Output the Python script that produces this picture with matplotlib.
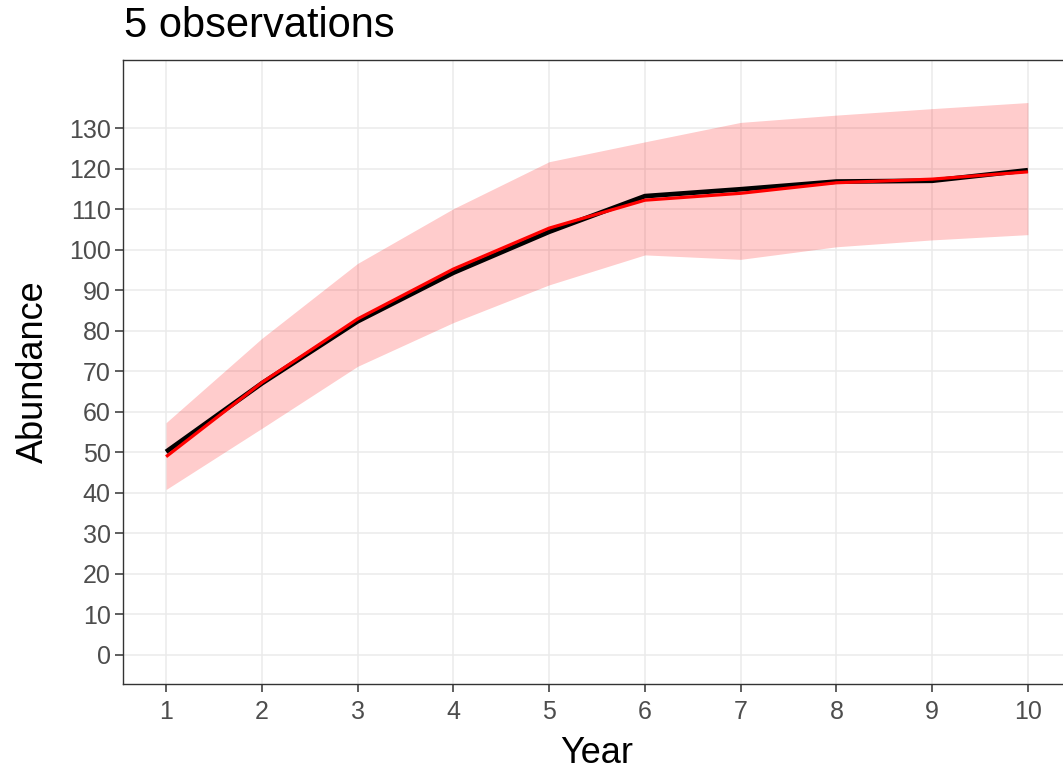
import numpy as np
import matplotlib
matplotlib.use("Agg")
import matplotlib.pyplot as plt

plt.rcParams['font.family'] = ['Liberation Sans', 'DejaVu Sans']

# values
years = [1, 2, 3, 4, 5, 6, 7, 8, 9, 10]
true_abund = [50.1, 67.0, 82.3, 94.3, 104.4, 113.2, 114.9, 116.8, 117.0, 119.6]
est_abund = [48.9, 67.2, 82.9, 95.2, 105.3, 112.2, 113.9, 116.5, 117.4, 119.2]
est_upper = [57.3, 78.1, 96.6, 110.1, 121.7, 126.6, 131.4, 133.2, 134.8, 136.3]
est_lower = [40.8, 55.9, 71.2, 82.0, 91.3, 98.7, 97.6, 100.7, 102.4, 103.7]
y_ticks = list(range(0, 140, 10))

fig = plt.figure(figsize=(10.63, 7.72), dpi=100)
ax = fig.add_axes([123 / 1063, 1 - 684 / 772, (1071 - 123) / 1063, (684 - 60) / 772])

ax.fill_between(years, est_lower, est_upper, color='red', alpha=0.2, linewidth=0, zorder=2)
ax.plot(years, true_abund, color='black', lw=3.4, zorder=3, solid_capstyle='butt')
ax.plot(years, est_abund, color='red', lw=2.3, zorder=4, solid_capstyle='butt')

ax.set_xlim(0.55, 10.45)
ax.set_ylim(-7.2, 146.8)
ax.set_xticks(years)
ax.set_yticks(y_ticks)
ax.grid(True, color='#EBEBEB', lw=1.1, zorder=0)
ax.set_axisbelow(True)
for s in ax.spines.values():
    s.set_color('#333333')
    s.set_linewidth(1.0)
ax.tick_params(axis='both', length=5.8, width=1.1, color='#333333',
               labelcolor='#4D4D4D', labelsize=18)
ax.tick_params(axis='x', pad=6)
ax.tick_params(axis='y', pad=3)

fig.text(124 / 1063, 1 - 37 / 772, "5 observations", fontsize=30, ha='left', va='baseline')
fig.text(597 / 1063, 0.001, "Year", fontsize=26, ha='center', va='bottom')
fig.text(33 / 1063, 1 - 372 / 772, "Abundance", fontsize=26, rotation=90, ha='center', va='center')

fig.savefig("out.png", dpi=100)
